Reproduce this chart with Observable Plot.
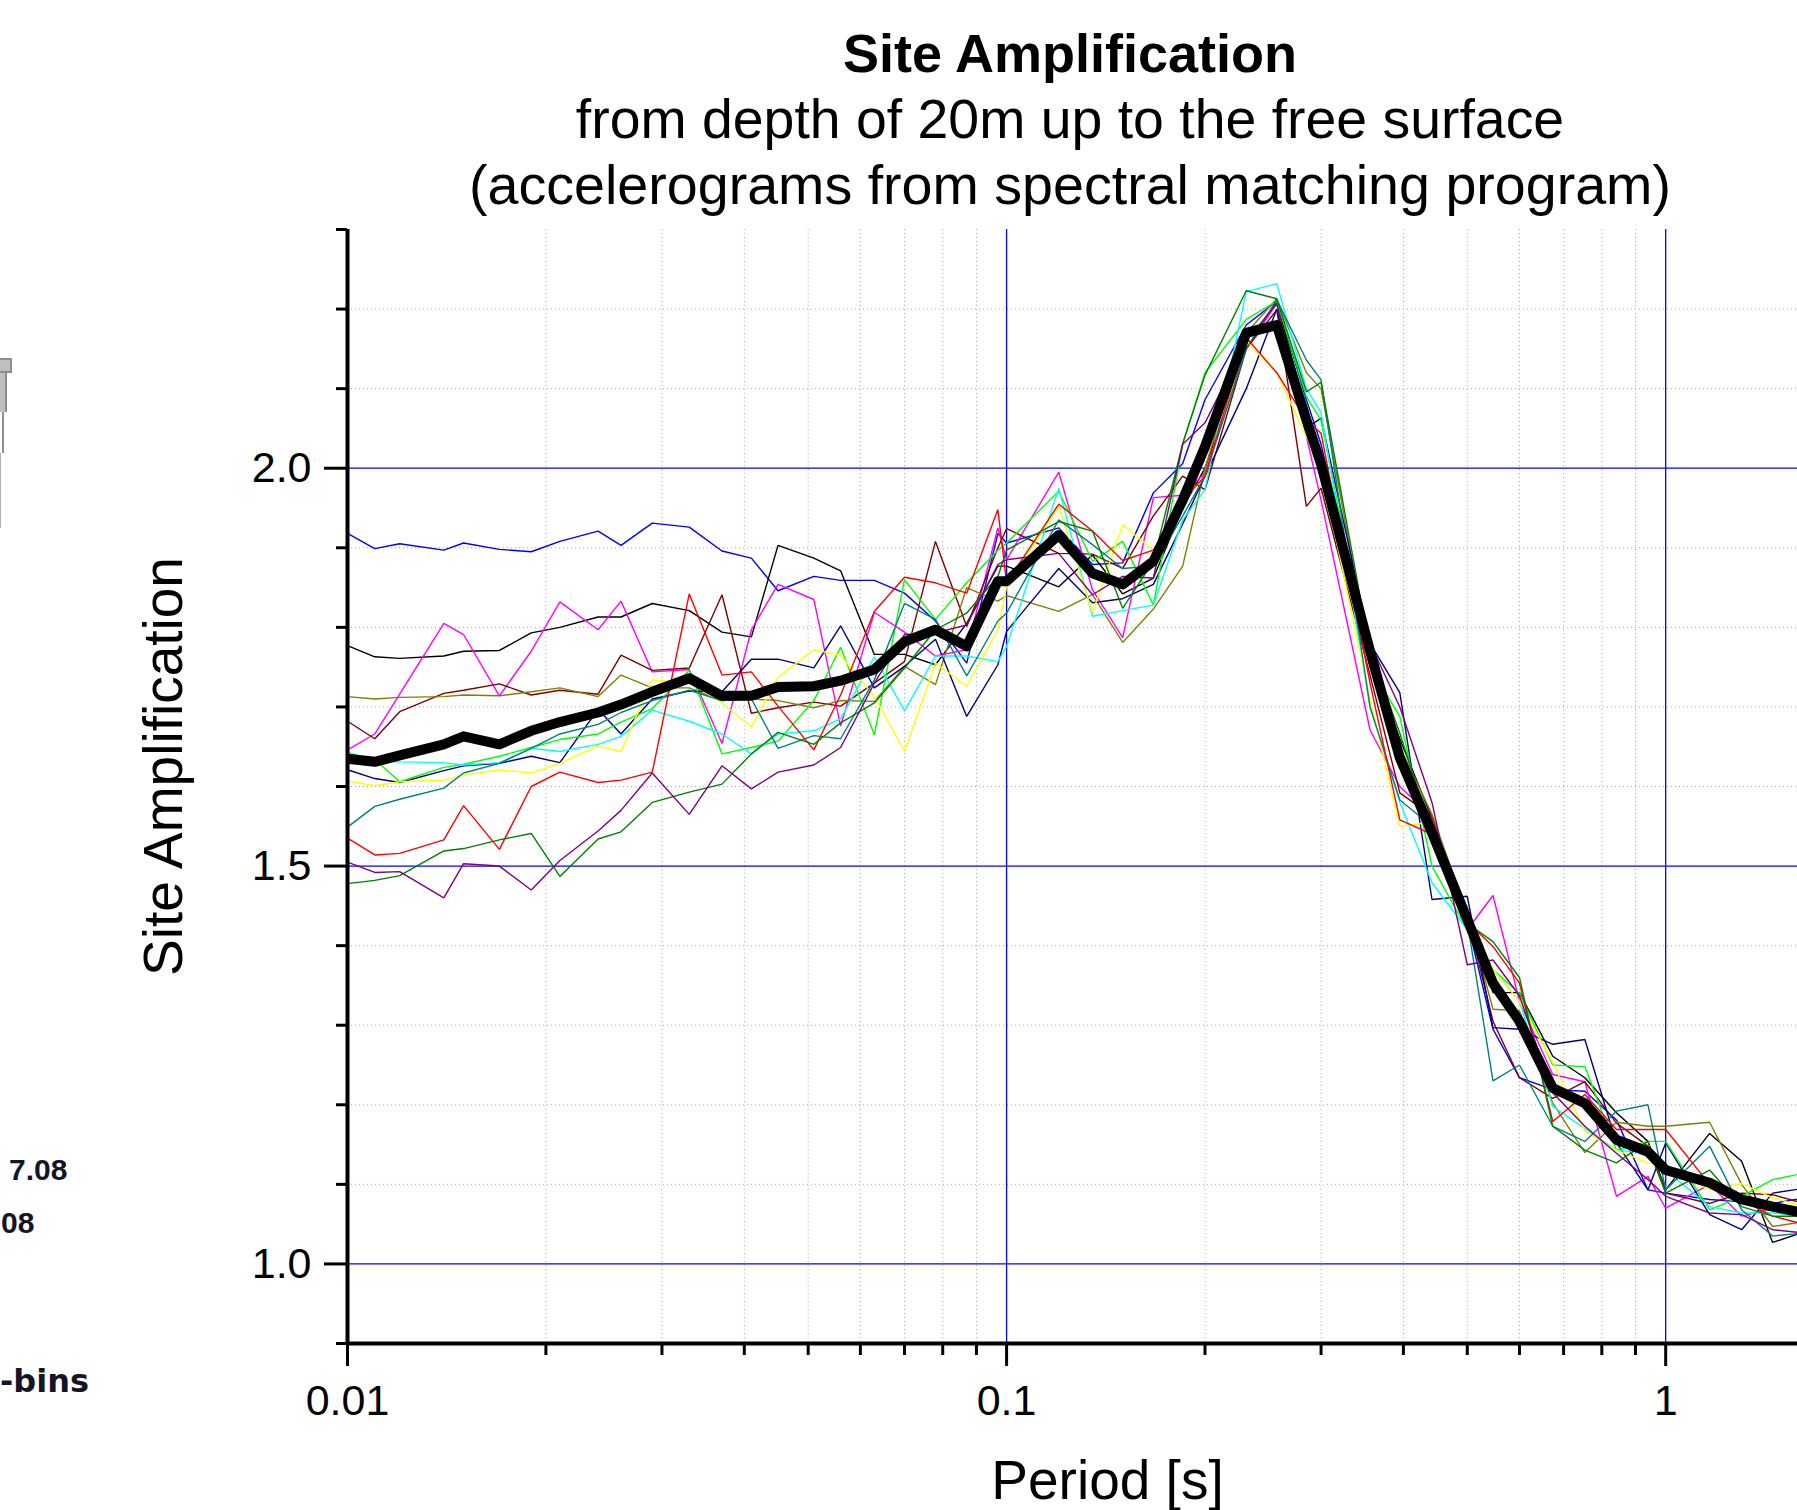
<!DOCTYPE html>
<html>
<head>
<meta charset="utf-8">
<script src="https://cdn.jsdelivr.net/npm/d3@7"></script>
<script src="https://cdn.jsdelivr.net/npm/@observablehq/plot@0.6"></script>
<style>
  body { margin: 0; background: #fff; }
  #wrap { position: relative; width: 1797px; height: 1510px; overflow: hidden; background: #fff;
          font-family: "Liberation Sans", Arial, sans-serif; color: #000; }
  #chart { position: absolute; left: 0; top: 0; }
  .t { position: absolute; left: 0; width: 2140px; text-align: center; white-space: nowrap; }
  .rem { position: absolute; white-space: nowrap; }
</style>
</head>
<body>
<div id="wrap">
  <div id="chart"></div>
  <div class="t" style="top:26px;font-size:54px;line-height:54px;font-weight:bold;">Site Amplification</div>
  <div class="t" style="top:92px;font-size:55.4px;line-height:55px;">from depth of 20m up to the free surface</div>
  <div class="t" style="top:158px;font-size:55.6px;line-height:55px;">(accelerograms from spectral matching program)</div>

  <!-- cropped remnant of a neighbouring figure at the left edge -->
  <div class="rem" style="left:-4px;top:358px;width:12px;height:11px;background:#bfbfbf;border:2px solid #8e8e8e;"></div>
  <div class="rem" style="left:-4px;top:373px;width:9px;height:39px;background:#bfbfbf;border-right:2px solid #8e8e8e;"></div>
  <div class="rem" style="left:2px;top:412px;width:2px;height:41px;background:#8e8e8e;"></div>
  <div class="rem" style="left:0px;top:453px;width:1px;height:75px;background:#b0b0b0;"></div>
  <div class="rem" style="left:9px;top:1155px;font-size:30px;line-height:30px;font-weight:bold;color:#141428;">7.08</div>
  <div class="rem" style="left:1px;top:1208px;font-size:30px;line-height:30px;font-weight:bold;color:#141428;">08</div>
  <div class="rem" style="left:0px;top:1365px;font-family:'DejaVu Sans',sans-serif;font-size:32px;line-height:32px;font-weight:bold;color:#141428;">-bins</div>
</div>
<script>
// ---- data ----
const periods = [0.01, 0.011, 0.012, 0.014, 0.015, 0.017, 0.019, 0.021, 0.024, 0.026, 0.029, 0.033, 0.037, 0.041, 0.045, 0.051, 0.056,
  0.063, 0.07, 0.078, 0.087, 0.097, 0.1, 0.12, 0.135, 0.15, 0.167, 0.185, 0.2,
  0.231, 0.257, 0.285, 0.3,
  0.356, 0.395, 0.442, 0.5, 0.547, 0.6, 0.674, 0.754, 0.842, 0.94, 1.0, 1.166, 1.304, 1.453, 1.62];

const blue = [1.918,1.899,1.905,1.897,1.906,1.898,1.895,1.908,1.921,1.903,1.931,1.926,1.896,1.887,1.846,1.864,1.859,
  1.859,1.843,1.808,1.755,1.918,1.906,1.925,1.879,1.881,1.969,2.006,2.086,
  2.18,2.21,2.086,2.03,
  1.77,1.65,1.55,1.43,1.295,1.234,1.219,1.217,1.181,1.093,1.089,1.081,1.078,1.076,1.083];
const black = [1.777,1.763,1.761,1.764,1.770,1.771,1.793,1.800,1.813,1.813,1.830,1.821,1.794,1.788,1.903,1.887,1.871,
  1.766,1.766,1.753,1.805,1.877,1.877,1.851,1.891,1.842,1.862,1.95,2.0,
  2.15,2.21,2.07,2.01,
  1.76,1.66,1.56,1.44,1.341,1.341,1.261,1.234,1.190,1.154,1.093,1.164,1.129,1.027,1.04];
const magenta = [1.646,1.666,1.716,1.805,1.791,1.714,1.770,1.832,1.797,1.833,1.744,1.747,1.654,1.797,1.854,1.835,1.676,
  1.819,1.794,1.764,1.772,1.925,1.885,1.995,1.847,1.787,1.963,1.966,1.994,
  2.15,2.207,2.04,1.96,
  1.671,1.60,1.562,1.42,1.463,1.33,1.238,1.229,1.085,1.11,1.07,1.10,1.06,1.07,1.07];
const maroon = [1.682,1.660,1.694,1.717,1.721,1.729,1.715,1.721,1.716,1.765,1.746,1.749,1.841,1.692,1.699,1.706,1.701,
  1.730,1.757,1.908,1.801,1.90,1.924,1.893,1.892,1.874,1.94,1.99,1.973,
  2.15,2.199,1.952,1.975,
  1.74,1.592,1.563,1.437,1.305,1.234,1.208,1.229,1.177,1.148,1.089,1.076,1.089,1.087,1.076];
const olive = [1.713,1.710,1.712,1.713,1.715,1.714,1.719,1.724,1.713,1.740,1.724,1.724,1.708,1.710,1.708,1.699,1.708,
  1.707,1.751,1.728,1.850,1.833,1.840,1.820,1.841,1.781,1.823,1.877,2.0,
  2.17,2.213,2.12,2.10,
  1.76,1.65,1.565,1.44,1.32,1.318,1.202,1.14,1.178,1.173,1.173,1.178,1.10,1.047,1.053];
const navy = [1.621,1.610,1.605,1.620,1.626,1.629,1.638,1.630,1.697,1.666,1.710,1.720,1.719,1.760,1.760,1.749,1.802,
  1.724,1.751,1.785,1.688,1.753,1.795,1.874,1.831,1.836,1.854,1.93,1.99,
  2.10,2.20,2.05,2.063,
  1.78,1.718,1.458,1.462,1.297,1.295,1.276,1.282,1.152,1.093,1.152,1.062,1.043,1.089,1.095];
const lime = [1.641,1.634,1.606,1.624,1.628,1.638,1.649,1.659,1.666,1.681,1.698,1.746,1.641,1.649,1.657,1.708,1.775,
  1.665,1.860,1.810,1.856,1.897,1.906,1.971,1.883,1.908,1.828,2.03,2.12,
  2.187,2.21,2.09,2.06,
  1.75,1.688,1.50,1.42,1.37,1.34,1.25,1.248,1.143,1.154,1.154,1.068,1.085,1.106,1.114];
const cyan = [1.643,1.632,1.631,1.630,1.627,1.630,1.648,1.644,1.653,1.663,1.696,1.682,1.666,1.641,1.666,1.670,1.685,
  1.763,1.695,1.764,1.764,1.757,1.776,1.975,1.814,1.821,1.828,1.935,1.973,
  2.222,2.232,2.10,2.07,
  1.70,1.58,1.479,1.42,1.37,1.33,1.198,1.17,1.143,1.139,1.118,1.072,1.064,1.064,1.06];
const yellow = [1.607,1.601,1.606,1.608,1.614,1.621,1.617,1.629,1.651,1.644,1.734,1.731,1.705,1.675,1.737,1.772,1.765,
  1.713,1.644,1.755,1.726,1.797,1.851,1.952,1.818,1.929,1.897,1.96,1.99,
  2.16,2.12,2.04,2.0,
  1.71,1.55,1.555,1.44,1.37,1.33,1.253,1.167,1.143,1.127,1.122,1.093,1.101,1.083,1.072];
const teal = [1.549,1.575,1.584,1.598,1.617,1.629,1.648,1.666,1.678,1.693,1.708,1.721,1.708,1.710,1.648,1.664,1.660,
  1.734,1.830,1.810,1.739,1.808,1.818,1.935,1.904,1.874,1.877,1.94,1.99,
  2.15,2.212,2.136,2.111,
  1.70,1.583,1.55,1.43,1.23,1.25,1.173,1.154,1.192,1.20,1.093,1.148,1.068,1.035,1.039];
const red = [1.535,1.514,1.516,1.533,1.576,1.521,1.600,1.618,1.605,1.608,1.618,1.842,1.740,1.744,1.701,1.646,1.715,
  1.820,1.863,1.856,1.843,1.948,1.856,1.955,1.921,1.884,1.897,1.96,1.99,
  2.164,2.12,2.06,2.044,
  1.73,1.558,1.54,1.43,1.399,1.353,1.179,1.213,1.169,1.169,1.169,1.10,1.08,1.06,1.05];
const green = [1.478,1.482,1.488,1.519,1.522,1.533,1.541,1.487,1.534,1.543,1.580,1.593,1.603,1.641,1.668,1.653,1.680,
  1.705,1.749,1.797,1.818,1.864,1.897,1.933,1.921,1.824,1.883,2.031,2.117,
  2.223,2.213,2.096,2.108,
  1.77,1.667,1.54,1.428,1.405,1.36,1.173,1.143,1.127,1.154,1.089,1.118,1.072,1.06,1.06];
const purple = [1.505,1.492,1.493,1.460,1.503,1.500,1.470,1.507,1.544,1.570,1.617,1.565,1.626,1.597,1.618,1.627,1.649,
  1.730,1.791,1.793,1.803,1.879,1.885,1.893,1.841,1.864,1.862,2.03,2.057,
  2.16,2.207,2.05,2.0,
  1.78,1.70,1.58,1.376,1.382,1.337,1.215,1.173,1.139,1.106,1.085,1.064,1.062,1.043,1.039];
const mean = [1.635,1.631,1.639,1.653,1.663,1.653,1.670,1.681,1.693,1.703,1.719,1.736,1.714,1.714,1.725,1.726,1.733,
  1.747,1.782,1.797,1.776,1.858,1.858,1.916,1.868,1.854,1.883,1.960,2.027,
  2.170,2.180,2.061,2.005,
  1.77,1.636,1.542,1.433,1.353,1.305,1.221,1.202,1.156,1.141,1.118,1.102,1.081,1.072,1.064];

const seriesNames  = ["blue","black","magenta","maroon","olive","navy","lime","cyan","yellow","teal","red","green","purple"];
const seriesColors = ["#0000ff","#000000","#ff00ff","#800000","#808000","#000080","#00ff00","#00ffff","#ffff00","#008080","#ff0000","#008000","#800080"];
const seriesValues = [blue, black, magenta, maroon, olive, navy, lime, cyan, yellow, teal, red, green, purple];

const yMajor = [1.0, 1.5, 2.0];
const yMinor = [1.1, 1.2, 1.3, 1.4, 1.6, 1.7, 1.8, 1.9, 2.1, 2.2];
const yMinorTicks = [0.9, 1.1, 1.2, 1.3, 1.4, 1.6, 1.7, 1.8, 1.9, 2.1, 2.2, 2.3];
const xMajor = [0.01, 0.1, 1];
const xMinor = [0.02, 0.03, 0.04, 0.05, 0.06, 0.07, 0.08, 0.09, 0.2, 0.3, 0.4, 0.5, 0.6, 0.7, 0.8, 0.9];

const rows = seriesNames.flatMap((name, k) => seriesValues[k].map((v, i) => ({period: periods[i], amp: v, name})));
const meanRows = mean.map((v, i) => ({period: periods[i], amp: v}));

const gridGreen = "#4cf04c";

const chart = Plot.plot({
  width: 1797,
  height: 1510,
  marginLeft: 347,
  marginRight: 0,
  marginTop: 229,
  marginBottom: 167,
  style: {fontFamily: '"Liberation Sans", Arial, sans-serif', fontSize: "43px", color: "#000", background: "transparent", overflow: "visible"},
  x: {type: "log", domain: [0.01, Math.pow(10, 0.2)], label: null},
  y: {domain: [0.9, 2.3], label: null},
  color: {domain: seriesNames, range: seriesColors},
  marks: [
    Plot.ruleY(yMinor, {stroke: gridGreen, strokeWidth: 1, strokeDasharray: "1,3"}),
    Plot.ruleX(xMinor, {stroke: gridGreen, strokeWidth: 1, strokeDasharray: "1,3"}),
    Plot.ruleY(yMajor, {stroke: "#0000ff", strokeWidth: 1.3}),
    Plot.ruleX(xMajor.slice(1), {stroke: "#0000ff", strokeWidth: 1.3}),
    Plot.line(rows, {x: "period", y: "amp", z: "name", stroke: "name", strokeWidth: 1.4, strokeLinejoin: "miter", clip: true}),
    Plot.line(meanRows, {x: "period", y: "amp", stroke: "#000", strokeWidth: 10, strokeLinejoin: "round", clip: true}),
    Plot.axisY({ticks: yMajor, tickSize: 23, tickPadding: 13, strokeWidth: 3, tickFormat: d3.format(".1f"), label: null, fontSize: 43}),
    Plot.axisY({ticks: yMinorTicks, tickSize: 11, strokeWidth: 3, tickFormat: () => "", label: null}),
    Plot.axisX({ticks: xMajor, tickSize: 23, tickPadding: 18, strokeWidth: 3, tickFormat: d => String(d), label: null, fontSize: 43}),
    Plot.axisX({ticks: xMinor, tickSize: 12, strokeWidth: 3, tickFormat: () => "", label: null}),
    Plot.ruleX([0.01], {stroke: "#000", strokeWidth: 4}),
    Plot.ruleY([0.9], {stroke: "#000", strokeWidth: 4}),
    Plot.text(["Site Amplification"], {frameAnchor: "left", textAnchor: "middle", rotate: -90, dx: -166, dy: -20, lineAnchor: "bottom", fontSize: 55}),
    Plot.text(["Period [s]"], {frameAnchor: "bottom", textAnchor: "middle", dx: 35, dy: 155, lineAnchor: "bottom", fontSize: 55})
  ]
});
document.getElementById("chart").appendChild(chart);
</script>
</body>
</html>
